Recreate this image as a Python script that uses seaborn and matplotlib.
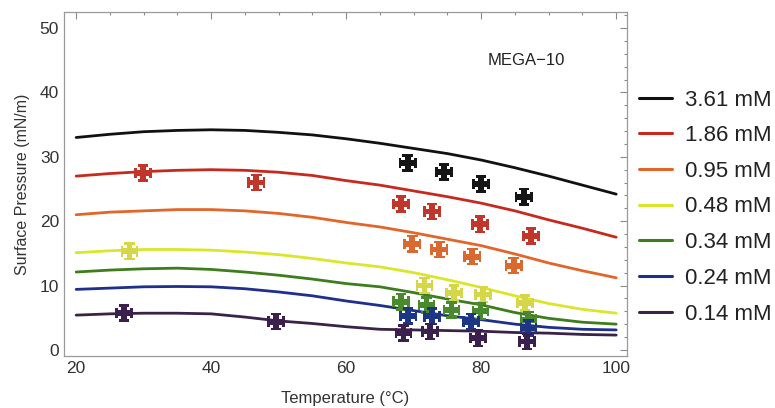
import numpy as np
import pandas as pd
import matplotlib
matplotlib.use("Agg")
import matplotlib.pyplot as plt
from matplotlib.path import Path
from matplotlib.ticker import MultipleLocator
import seaborn as sns

# ---------------- data ----------------
concentrations = ["3.61 mM", "1.86 mM", "0.95 mM", "0.48 mM", "0.34 mM", "0.24 mM", "0.14 mM"]
line_colors = ["#111111", "#c62a1f", "#e2652a", "#d9e62a", "#3d7d1c", "#1e2f8c", "#3a2348"]
point_colors = ["#151515", "#c0362a", "#d9692f", "#d6d64a", "#4a8a2e", "#1c3585", "#3b1f4d"]

curve_temp = [20, 25, 30, 35, 40, 45, 50, 55, 60, 65, 70, 75, 80, 85, 90, 95, 100]
curve_361 = [33.0, 33.5, 33.9, 34.1, 34.2, 34.1, 33.8, 33.4, 32.8, 32.1, 31.3, 30.5, 29.5, 28.3, 27.0, 25.6, 24.2]
curve_186 = [27.0, 27.4, 27.7, 27.9, 28.0, 27.9, 27.6, 27.1, 26.3, 25.6, 24.7, 23.8, 22.8, 21.6, 20.2, 18.9, 17.5]
curve_095 = [21.0, 21.4, 21.6, 21.8, 21.8, 21.6, 21.2, 20.6, 19.8, 19.1, 18.2, 17.2, 16.2, 14.9, 13.5, 12.3, 11.2]
curve_048 = [15.1, 15.4, 15.6, 15.6, 15.5, 15.2, 14.8, 14.2, 13.5, 12.9, 12.0, 10.9, 9.7, 8.4, 7.2, 6.3, 5.7]
curve_034 = [12.1, 12.4, 12.6, 12.7, 12.5, 12.1, 11.6, 11.0, 10.3, 9.8, 8.9, 7.9, 7.0, 5.8, 4.9, 4.3, 4.0]
curve_024 = [9.4, 9.6, 9.8, 9.85, 9.8, 9.5, 9.0, 8.4, 7.6, 6.9, 6.1, 5.3, 4.7, 4.0, 3.5, 3.2, 3.1]
curve_014 = [5.4, 5.6, 5.7, 5.7, 5.6, 5.1, 4.5, 4.1, 3.6, 3.2, 3.1, 3.0, 2.9, 2.7, 2.6, 2.4, 2.3]

pts_361_t = [69.1, 74.5, 80.0, 86.3]
pts_361_p = [29.0, 27.6, 25.8, 23.8]
pts_186_t = [29.9, 46.7, 68.1, 72.7, 79.8, 87.4]
pts_186_p = [27.5, 26.0, 22.7, 21.5, 19.5, 17.7]
pts_095_t = [69.8, 73.8, 78.7, 84.8]
pts_095_p = [16.5, 15.6, 14.5, 13.1]
pts_048_t = [27.9, 71.6, 76.0, 80.3, 86.5]
pts_048_p = [15.3, 10.0, 8.8, 8.6, 7.3]
pts_034_t = [68.1, 71.9, 75.6, 79.9, 87.0]
pts_034_p = [7.5, 7.0, 6.2, 6.0, 4.7]
pts_024_t = [69.2, 72.7, 78.5, 87.0]
pts_024_p = [5.3, 5.2, 4.4, 3.4]
pts_014_t = [27.1, 49.6, 68.5, 72.4, 79.5, 86.8]
pts_014_p = [5.7, 4.4, 2.6, 2.85, 1.8, 1.3]

x_ticks = [20, 40, 60, 80, 100]
y_ticks = [0, 10, 20, 30, 40, 50]
annotation = "MEGA\u221210"

# ---------------- tables ----------------
curves = [curve_361, curve_186, curve_095, curve_048, curve_034, curve_024, curve_014]
pts_t = [pts_361_t, pts_186_t, pts_095_t, pts_048_t, pts_034_t, pts_024_t, pts_014_t]
pts_p = [pts_361_p, pts_186_p, pts_095_p, pts_048_p, pts_034_p, pts_024_p, pts_014_p]

curve_df = pd.concat([
    pd.DataFrame({"T": curve_temp, "P": c, "conc": name})
    for name, c in zip(concentrations, curves)
], ignore_index=True)
pts_df = pd.concat([
    pd.DataFrame({"T": t, "P": p, "conc": name})
    for name, t, p in zip(concentrations, pts_t, pts_p)
], ignore_index=True)

# custom cross marker (thick cross with widened, capped arms)
a, c, e = 0.33, 0.58, 0.70
v = [(-c, 1), (c, 1), (c, e), (a, e), (a, a), (e, a), (e, c), (1, c),
     (1, -c), (e, -c), (e, -a), (a, -a), (a, -e), (c, -e), (c, -1),
     (-c, -1), (-c, -e), (-a, -e), (-a, -a), (-e, -a), (-e, -c), (-1, -c),
     (-1, c), (-e, c), (-e, a), (-a, a), (-a, e), (-c, e), (-c, 1)]
cross = Path(v, closed=True)

# ---------------- plot ----------------
sns.set_theme(style="white")
plt.rcParams["font.family"] = ["Liberation Sans", "DejaVu Sans"]

fig = plt.figure(figsize=(7.75, 4.08), dpi=100)
ax = fig.add_axes([64 / 775, 1 - 356 / 408, (627 - 64) / 775, (356 - 12) / 408])

sns.lineplot(data=curve_df, x="T", y="P", hue="conc", hue_order=concentrations,
             palette=line_colors, linewidth=2.0, ax=ax, legend=True, sort=False)
sns.scatterplot(data=pts_df, x="T", y="P", hue="conc", hue_order=concentrations,
                palette=point_colors, marker=cross, s=165, linewidth=0,
                ax=ax, legend=False, zorder=5)

ax.set_xlim(18.2, 101.6)
ax.set_ylim(-0.95, 52.5)
ax.set_xticks(x_ticks)
ax.set_yticks(y_ticks)
ax.xaxis.set_minor_locator(MultipleLocator(5))
ax.yaxis.set_minor_locator(MultipleLocator(2))
ax.tick_params(which="both", direction="in", top=True, right=True, color="#8a8a8a",
               labelcolor="#333333", labelsize=12.5, width=0.8)
ax.tick_params(which="major", length=5)
ax.tick_params(which="minor", length=2.5)
for s in ax.spines.values():
    s.set_color("#9a9a9a")
    s.set_linewidth(0.9)

ax.set_xlabel("Temperature (\u00b0C)", fontsize=12, color="#333333", labelpad=11)
ax.set_ylabel("Surface Pressure (mN/m)", fontsize=11.5, color="#333333", labelpad=7)

ax.text(0.822, 0.86, annotation, transform=ax.transAxes, fontsize=12,
        ha="center", va="center", color="#222222")

handles, labels = ax.get_legend_handles_labels()
ax.legend_.remove()
for h in handles:
    h.set_linewidth(2.2)
fig.legend(handles, labels, loc="center left", bbox_to_anchor=(639 / 775, 1 - 207 / 408),
           frameon=False, fontsize=16, handlelength=1.5, handletextpad=0.55,
           labelspacing=0.66, borderpad=0, borderaxespad=0, labelcolor="#222222")

fig.savefig("out.png", dpi=100)
